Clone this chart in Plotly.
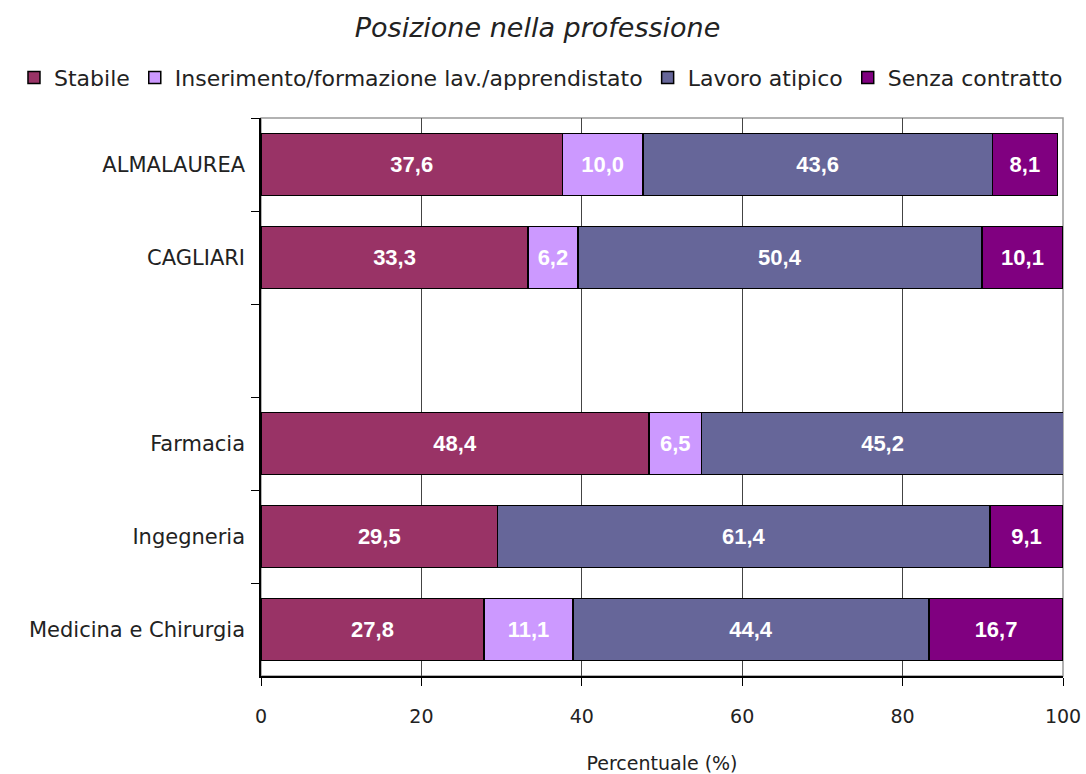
import plotly.graph_objects as go

categorie = ['ALMALAUREA', 'CAGLIARI', ' ', 'Farmacia', 'Ingegneria', 'Medicina e Chirurgia']
stabile = [37.6, 33.3, None, 48.4, 29.5, 27.8]
inserimento = [10.0, 6.2, None, 6.5, 0, 11.1]
atipico = [43.6, 50.4, None, 45.2, 61.4, 44.4]
senza = [8.1, 10.1, None, 0, 9.1, 16.7]

serie = [
    ('Stabile', stabile, '#993366'),
    ('Inserimento/formazione lav./apprendistato', inserimento, '#CC99FF'),
    ('Lavoro atipico', atipico, '#666699'),
    ('Senza contratto', senza, '#800080'),
]

font_base = 'DejaVu Sans, sans-serif'

fig = go.Figure()
for nome, valori, colore in serie:
    testi = ['' if not v else f'{v:.1f}'.replace('.', ',') for v in valori]
    fig.add_trace(go.Bar(
        y=categorie, x=valori, name=nome, orientation='h',
        marker=dict(color=colore, line=dict(color='black', width=1.5)),
        text=testi, textposition='inside', insidetextanchor='middle',
        textangle=0,
        textfont=dict(family='Liberation Sans Narrow, Arial Narrow, Liberation Sans, sans-serif',
                      size=22, color='white', weight='bold'),
    ))

fig.update_layout(
    barmode='stack',
    bargap=0.33,
    width=1086, height=774,
    margin=dict(l=261, r=23, t=118, b=98, autoexpand=False),
    paper_bgcolor='white', plot_bgcolor='white',
    font=dict(family=font_base, size=19, color='#222222'),
    title=dict(text='<i>Posizione nella professione</i>', x=0.495, xanchor='center',
               y=0.964, yanchor='middle',
               font=dict(family=font_base, size=27, color='#222222')),
    legend=dict(orientation='h', x=-0.308, xanchor='left',
                y=1.072, yanchor='middle', traceorder='normal',
                font=dict(size=22), itemwidth=30),
    uniformtext=dict(minsize=10, mode='show'),
)

fig.update_xaxes(
    range=[0, 100], tickvals=[0, 20, 40, 60, 80, 100],
    showgrid=True, gridcolor='#444444', gridwidth=1,
    showline=True, linecolor='black', linewidth=1.5,
    ticks='outside', ticklen=8, tickcolor='black',
    tickfont=dict(size=19), ticklabeloverflow='allow', ticklabelstandoff=14,
    title=dict(text='Percentuale (%)', font=dict(size=19), standoff=39),
    zeroline=False,
)
fig.update_yaxes(
    autorange='reversed', type='category',
    showline=True, linecolor='black', linewidth=1.5,
    ticks='outside', tickson='boundaries', ticklen=8, tickcolor='black',
    tickfont=dict(size=21), ticklabelstandoff=10, showgrid=False,
)

fig.add_shape(type='rect', xref='paper', yref='paper', x0=0, x1=1, y0=0, y1=1,
              line=dict(color='#999999', width=1.5), layer='below')

# togli il margine del body così la figura occupa tutta la finestra
fig.write_html('out.html', config={'displayModeBar': False},
               post_script="document.body.style.margin='0';")
